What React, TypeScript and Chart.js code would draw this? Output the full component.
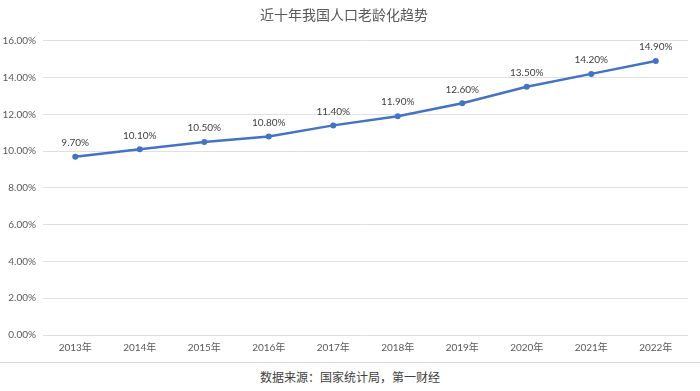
import React, { useEffect, useRef } from "react";
import { Chart, registerables } from "chart.js";

Chart.register(...registerables);

const categories = ["2013年", "2014年", "2015年", "2016年", "2017年", "2018年", "2019年", "2020年", "2021年", "2022年"];
const agingRate = [9.7, 10.1, 10.5, 10.8, 11.4, 11.9, 12.6, 13.5, 14.2, 14.9];
const yTicks = [0, 2, 4, 6, 8, 10, 12, 14, 16];

const FONT = "Lato, 'Noto Sans CJK SC', sans-serif";

const labelPlugin = {
  id: "pointLabels",
  afterDatasetsDraw(chart: any) {
    const ctx = chart.ctx;
    const meta = chart.getDatasetMeta(0);
    ctx.save();
    ctx.font = `10px ${FONT}`;
    ctx.fillStyle = "#404040";
    ctx.textAlign = "center";
    ctx.textBaseline = "middle";
    meta.data.forEach((pt: any, i: number) => {
      ctx.fillText(agingRate[i].toFixed(2) + "%", pt.x, pt.y - 14);
    });
    ctx.restore();
  },
};

export default function App() {
  const ref = useRef<HTMLCanvasElement>(null);
  useEffect(() => {
    if (!ref.current) return;
    const chart = new Chart(ref.current, {
      type: "line",
      data: {
        labels: categories,
        datasets: [
          {
            data: agingRate,
            borderColor: "#4472C4",
            backgroundColor: "#4472C4",
            borderWidth: 2.5,
            pointRadius: 3,
            pointBackgroundColor: "#4472C4",
            pointBorderWidth: 0,
            tension: 0,
          },
        ],
      },
      options: {
        responsive: false,
        animation: false,
        layout: { padding: { left: 0, right: 12, top: 0, bottom: 0 } },
        plugins: {
          legend: { display: false },
          tooltip: { enabled: false },
          title: {
            display: true,
            text: "近十年我国人口老龄化趋势",
            color: "#595959",
            font: { family: FONT, size: 14, weight: "normal" },
            padding: { top: 7, bottom: 17 },
          },
        },
        scales: {
          x: {
            offset: true,
            grid: { display: false, drawTicks: false },
            border: { display: false },
            ticks: { color: "#595959", font: { family: FONT, size: 10 }, padding: 7, maxRotation: 0 },
            afterFit: (s: any) => {
              s.height = 27;
            },
          },
          y: {
            min: 0,
            max: 16,
            afterBuildTicks: (s: any) => {
              s.ticks = yTicks.map((v) => ({ value: v }));
            },
            grid: { color: "#e0e0e0", lineWidth: 1, drawTicks: false },
            border: { display: false },
            ticks: {
              color: "#595959",
              font: { family: FONT, size: 10 },
              padding: 7,
              callback: (v: any) => Number(v).toFixed(2) + "%",
            },
            afterFit: (s: any) => {
              s.width = 43;
            },
          },
        },
      },
      plugins: [labelPlugin],
    });
    return () => chart.destroy();
  }, []);

  return (
    <div style={{ position: "fixed", left: 0, top: 0, width: 700, height: 391, background: "#fff" }}>
      <canvas ref={ref} width={700} height={362} style={{ display: "block" }} />
      <div style={{ height: 0, borderTop: "1.5px solid #d9d9d9" }} />
      <div
        style={{
          textAlign: "center",
          fontFamily: "'Noto Sans CJK SC', sans-serif",
          fontSize: 12,
          color: "#404040",
          lineHeight: "28px",
        }}
      >
        数据来源：国家统计局，第一财经
      </div>
    </div>
  );
}
